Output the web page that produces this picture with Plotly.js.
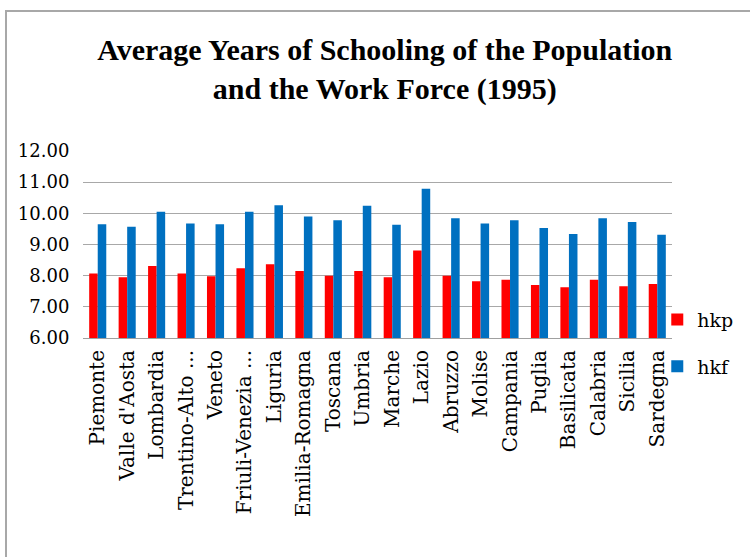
<!DOCTYPE html>
<html>
<head>
<meta charset="utf-8">
<script src="https://cdn.plot.ly/plotly-3.0.1.min.js"></script>
<style>
  html, body { margin: 0; padding: 0; background: #ffffff; }
  #wrap { position: relative; width: 750px; height: 557px; overflow: hidden; }
  #chart { position: absolute; left: 0; top: 0; width: 750px; height: 557px; }
  #frame { position: absolute; left: 5px; top: 10px; width: 800px; height: 600px;
           border-left: 2px solid #a8a8a8; border-top: 2px solid #a8a8a8; pointer-events: none; }
</style>
</head>
<body>
<div id="wrap">
  <div id="chart"></div>
  <div id="frame"></div>
</div>
<script>
const categories = ["Piemonte", "Valle d'Aosta", "Lombardia", "Trentino-Alto ...", "Veneto",
  "Friuli-Venezia ...", "Liguria", "Emilia-Romagna", "Toscana", "Umbria", "Marche", "Lazio",
  "Abruzzo", "Molise", "Campania", "Puglia", "Basilicata", "Calabria", "Sicilia", "Sardegna"];
const hkp = [8.07, 7.95, 8.31, 8.07, 7.98, 8.24, 8.37, 8.15, 8.00, 8.15, 7.95, 8.81,
  8.00, 7.82, 7.87, 7.70, 7.63, 7.87, 7.66, 7.73];
const hkf = [9.65, 9.57, 10.05, 9.67, 9.65, 10.05, 10.26, 9.90, 9.78, 10.24, 9.63, 10.79,
  9.84, 9.67, 9.78, 9.53, 9.34, 9.84, 9.72, 9.31];
const yTicks = [6, 7, 8, 9, 10, 11, 12];
const titleText = "Average Years of Schooling of the Population<br>and the Work Force (1995)";

const serif = "Liberation Serif";
const wideSerif = "DejaVu Serif";

const traces = [
  { type: "bar", name: "hkp", x: categories, y: hkp, marker: { color: "#ff0000" },
    legendgroup: "a", hoverinfo: "x+y" },
  { type: "bar", name: "hkf", x: categories, y: hkf, marker: { color: "#0070c0" },
    legendgroup: "b", hoverinfo: "x+y" }
];

const layout = {
  width: 750, height: 557,
  font: { family: wideSerif, color: "#000000" },
  margin: { l: 83, r: 76, t: 151, b: 219, pad: 0 },
  paper_bgcolor: "#ffffff", plot_bgcolor: "#ffffff",
  title: { text: titleText, x: 0.513, xanchor: "center", y: 0.892, yanchor: "top",
    font: { family: serif, size: 30, color: "#000000", weight: "bold" } },
  barmode: "group", bargap: 0.42, bargroupgap: 0,
  showlegend: true,
  legend: { x: 0.975, xanchor: "left", y: 0.2, yanchor: "top",
    font: { family: wideSerif, size: 19, color: "#000000" },
    traceorder: "grouped", tracegroupgap: 19, bgcolor: "rgba(0,0,0,0)" },
  xaxis: { type: "category", tickangle: -90, showgrid: false, showline: true,
    linecolor: "#a0a0a0", linewidth: 1, ticks: "outside", ticklen: 3,
    tickcolor: "rgba(0,0,0,0)", automargin: false,
    tickfont: { family: wideSerif, size: 20, color: "#000000" } },
  yaxis: { range: [6, 12], tickvals: yTicks, tickformat: ".2f", showgrid: true,
    gridcolor: "#a8a8a8", gridwidth: 1, zeroline: false, showline: false,
    ticks: "outside", ticklen: 9, tickcolor: "rgba(0,0,0,0)", automargin: false,
    tickfont: { family: wideSerif, size: 18, color: "#000000" } }
};

Plotly.newPlot("chart", traces, layout, { displayModeBar: false, staticPlot: true });
</script>
</body>
</html>
